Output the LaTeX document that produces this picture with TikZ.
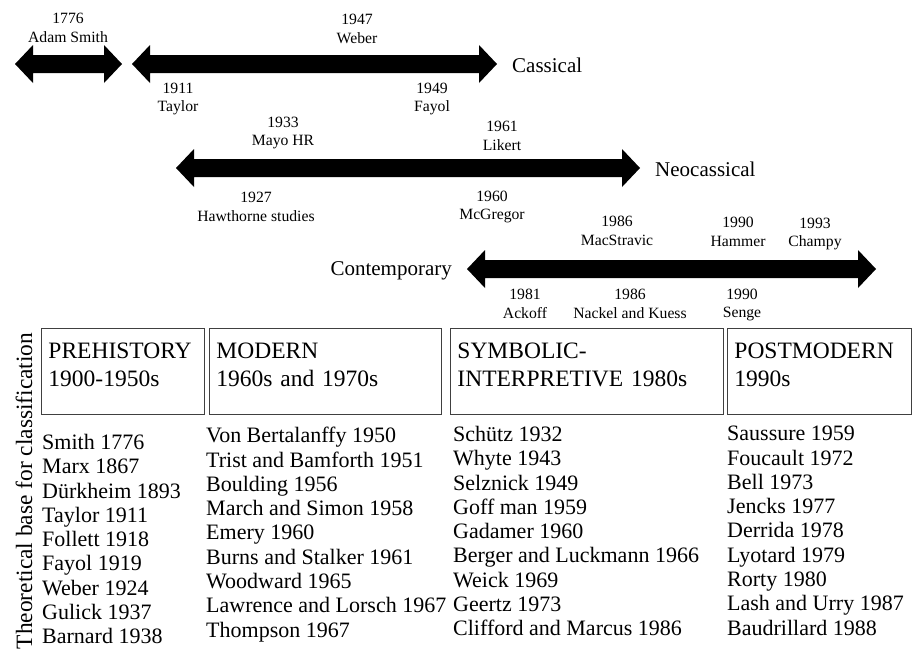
\documentclass[tikz,border=0pt]{standalone}
\usepackage{fontspec}
\setmainfont{Liberation Serif}
\usepackage{tikz}

\begin{document}
\begin{tikzpicture}[
x=1pt, y=-1pt,
lbl/.style={font=\fontsize{15.7}{18.5}\selectfont, align=center, inner sep=0pt},
era/.style={font=\fontsize{21}{25}\selectfont, inner sep=0pt},
period/.style={draw=black!75, line width=0.9pt, anchor=north west, minimum height=86pt, inner xsep=7pt, inner ysep=0pt, align=left, text depth=40.5pt, font=\fontsize{23.5}{28}\selectfont},
list/.style={anchor=north west, align=left, inner sep=0pt, font=\fontsize{22}{24.3}\selectfont}
]
\useasboundingbox (0,0) rectangle (912,659);

% timeline bars
\foreach \a/\b/\y in {15/122/64, 132/497/64, 176/640/168, 467/876/269}
  \fill (\a,\y) -- ++(18,-19) -- ++(0,10) -- (\b-18,\y-9) -- ++(0,-10) -- (\b,\y) -- ++(-18,19) -- ++(0,-10) -- (\a+18,\y+9) -- ++(0,10) -- cycle;

% classical
\node[lbl] (smith) at (68,28) {1776\\Adam Smith};
\node[lbl] (weber) at (357,29) {1947\\Weber};
\node[lbl] (taylor) at (178,99) {1911\\Taylor};
\node[lbl] (fayol) at (432,99) {1949\\Fayol};
\node[era, anchor=base west] (cass) at (512,72) {Cassical};

% neoclassical
\node[lbl] (mayo) at (283,133) {1933\\Mayo HR};
\node[lbl] (likert) at (502,136) {1961\\Likert};
\node[lbl] (hawthorne) at (256,207) {1927\\Hawthorne studies};
\node[lbl] (mcgregor) at (492,207) {1960\\McGregor};
\node[era, anchor=base west] (neo) at (655,176) {Neocassical};

% contemporary
\node[era, anchor=base east] (cont) at (452,275) {Contemporary};
\node[lbl] (macstravic) at (617,231) {1986\\MacStravic};
\node[lbl] (hammer) at (738,232) {1990\\Hammer};
\node[lbl] (champy) at (815,234) {1993\\Champy};
\node[lbl] (ackoff) at (525,304) {1981\\Ackoff};
\node[lbl] (nackel) at (630,304) {1986\\Nackel and Kuess};
\node[lbl] (senge) at (742,305) {1990\\Senge};

% periods
\node[period, text width=149pt] (pre) at (41,328) {PREHISTORY\\1900-1950s};
\node[period, text width=218pt] (mod) at (209,328) {MODERN\\1960s and 1970s};
\node[period, text width=259pt] (sym) at (450,328) {SYMBOLIC-\\INTERPRETIVE 1980s};
\node[period, text width=170pt] (post) at (727,328) {POSTMODERN\\1990s};

\node[rotate=90, anchor=base, inner sep=0pt, font=\fontsize{23.4}{28}\selectfont] (base) at (32,491) {Theoretical base for classification};

% authors
\node[list] (prelist) at (42,434) {Smith 1776\\Marx 1867\\Dürkheim 1893\\Taylor 1911\\Follett 1918\\Fayol 1919\\Weber 1924\\Gulick 1937\\Barnard 1938};
\node[list] (modlist) at (206,427) {Von Bertalanffy 1950\\Trist and Bamforth 1951\\Boulding 1956\\March and Simon 1958\\Emery 1960\\Burns and Stalker 1961\\Woodward 1965\\Lawrence and Lorsch 1967\\Thompson 1967};
\node[list] (symlist) at (453,426) {Schütz 1932\\Whyte 1943\\Selznick 1949\\Goff man 1959\\Gadamer 1960\\Berger and Luckmann 1966\\Weick 1969\\Geertz 1973\\Clifford and Marcus 1986};
\node[list] (postlist) at (727,426) {Saussure 1959\\Foucault 1972\\Bell 1973\\Jencks 1977\\Derrida 1978\\Lyotard 1979\\Rorty 1980\\Lash and Urry 1987\\Baudrillard 1988};
\end{tikzpicture}
\end{document}
